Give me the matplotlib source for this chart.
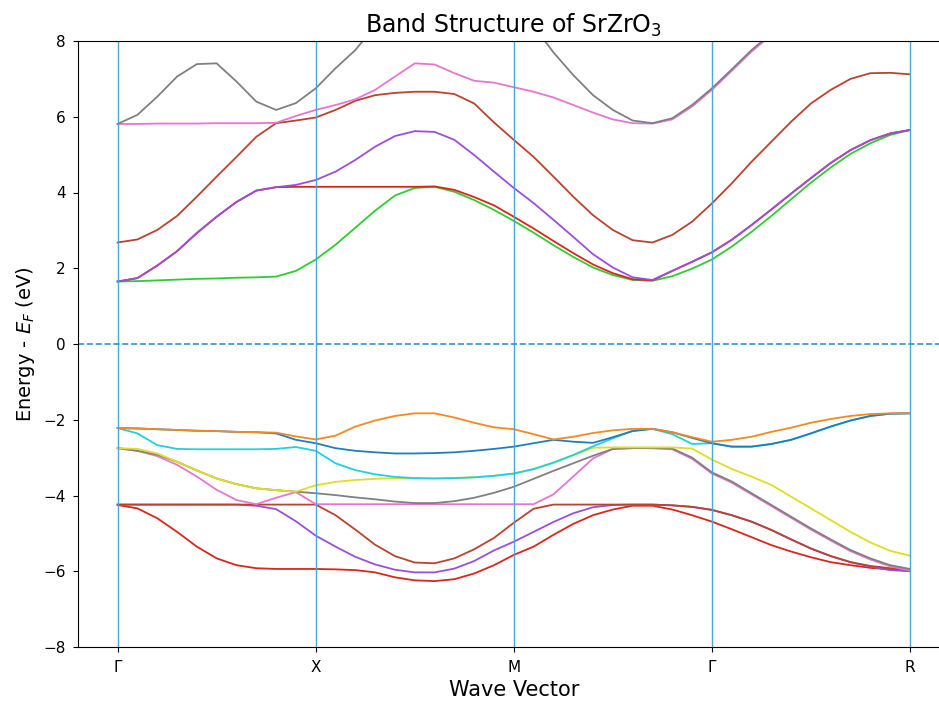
import numpy as np
import matplotlib
matplotlib.use("Agg")
import matplotlib.pyplot as plt

# k-path positions (equal segment lengths) and labels
kpoints = [0, 1, 2, 3, 4]
klabels = ["Γ", "X", "M", "Γ", "R"]
k = np.round(np.arange(0, 4.0001, 0.1), 2)  # sampled k positions (41)

# Valence bands (sorted lowest -> highest)
v_red = [-4.25,-4.34,-4.60,-4.96,-5.35,-5.66,-5.84,-5.92,-5.94,-5.94,-5.94,-5.95,-5.97,-6.03,-6.16,-6.24,-6.26,-6.21,-6.06,-5.84,-5.57,-5.35,-5.04,-4.75,-4.52,-4.37,-4.27,-4.27,-4.37,-4.52,-4.69,-4.89,-5.10,-5.31,-5.48,-5.63,-5.76,-5.84,-5.91,-5.95,-5.99]
v_purple = [-4.24,-4.24,-4.24,-4.24,-4.24,-4.24,-4.24,-4.27,-4.36,-4.68,-5.06,-5.35,-5.62,-5.82,-5.96,-6.03,-6.03,-5.93,-5.73,-5.45,-5.22,-4.96,-4.70,-4.47,-4.31,-4.25,-4.24,-4.24,-4.26,-4.30,-4.38,-4.52,-4.69,-4.91,-5.16,-5.40,-5.60,-5.76,-5.88,-5.97,-6.00]
v_brown = [-4.24,-4.24,-4.24,-4.24,-4.24,-4.24,-4.24,-4.24,-4.24,-4.24,-4.24,-4.52,-4.90,-5.30,-5.60,-5.77,-5.79,-5.66,-5.42,-5.12,-4.72,-4.35,-4.24,-4.24,-4.24,-4.24,-4.24,-4.24,-4.26,-4.30,-4.38,-4.52,-4.69,-4.91,-5.16,-5.40,-5.60,-5.76,-5.86,-5.92,-5.95]
v_pink = [-2.75,-2.82,-2.96,-3.19,-3.50,-3.85,-4.12,-4.23,-4.06,-3.91,-4.23,-4.23,-4.23,-4.23,-4.23,-4.23,-4.23,-4.23,-4.23,-4.23,-4.23,-4.23,-3.97,-3.50,-3.02,-2.77,-2.75,-2.75,-2.78,-3.03,-3.42,-3.66,-3.97,-4.28,-4.59,-4.90,-5.19,-5.47,-5.69,-5.87,-5.98]
v_gray = [-2.75,-2.82,-2.92,-3.11,-3.34,-3.55,-3.70,-3.81,-3.86,-3.90,-3.94,-3.99,-4.05,-4.10,-4.16,-4.20,-4.20,-4.15,-4.06,-3.93,-3.77,-3.56,-3.35,-3.15,-2.95,-2.77,-2.75,-2.75,-2.76,-3.00,-3.39,-3.63,-3.94,-4.25,-4.56,-4.87,-5.16,-5.44,-5.66,-5.84,-5.94]
v_yellow = [-2.75,-2.77,-2.89,-3.11,-3.34,-3.55,-3.70,-3.81,-3.86,-3.90,-3.73,-3.64,-3.59,-3.56,-3.54,-3.55,-3.55,-3.54,-3.52,-3.48,-3.42,-3.31,-3.14,-2.94,-2.74,-2.73,-2.73,-2.73,-2.73,-2.76,-3.05,-3.30,-3.50,-3.72,-4.03,-4.34,-4.65,-4.96,-5.24,-5.46,-5.59]
v_cyan = [-2.22,-2.36,-2.67,-2.77,-2.78,-2.78,-2.78,-2.78,-2.77,-2.72,-2.82,-3.15,-3.33,-3.44,-3.51,-3.54,-3.55,-3.54,-3.52,-3.48,-3.42,-3.30,-3.13,-2.93,-2.70,-2.49,-2.29,-2.24,-2.38,-2.64,-2.62,-2.71,-2.71,-2.64,-2.53,-2.36,-2.18,-2.02,-1.90,-1.84,-1.83]
v_blue = [-2.22,-2.23,-2.25,-2.27,-2.29,-2.30,-2.32,-2.33,-2.36,-2.53,-2.62,-2.75,-2.82,-2.86,-2.89,-2.89,-2.88,-2.86,-2.82,-2.77,-2.71,-2.62,-2.53,-2.58,-2.61,-2.46,-2.30,-2.24,-2.33,-2.48,-2.62,-2.71,-2.71,-2.64,-2.53,-2.36,-2.18,-2.02,-1.90,-1.84,-1.83]
v_orange = [-2.22,-2.23,-2.25,-2.27,-2.29,-2.30,-2.32,-2.33,-2.34,-2.44,-2.52,-2.42,-2.18,-2.02,-1.90,-1.83,-1.83,-1.94,-2.08,-2.20,-2.25,-2.38,-2.52,-2.45,-2.35,-2.28,-2.24,-2.24,-2.33,-2.46,-2.58,-2.53,-2.45,-2.32,-2.21,-2.08,-1.98,-1.90,-1.85,-1.83,-1.83]

# Conduction bands (sorted lowest -> highest)
c_green = [1.65,1.66,1.68,1.70,1.72,1.73,1.75,1.76,1.78,1.93,2.23,2.62,3.07,3.52,3.92,4.12,4.15,4.02,3.80,3.54,3.25,2.94,2.61,2.30,2.02,1.82,1.69,1.67,1.79,1.99,2.23,2.57,2.96,3.38,3.82,4.26,4.66,5.02,5.30,5.52,5.65]
c_red = [1.65,1.74,2.07,2.45,2.93,3.36,3.75,4.05,4.14,4.15,4.15,4.15,4.15,4.15,4.15,4.15,4.16,4.07,3.88,3.66,3.36,3.05,2.72,2.40,2.10,1.87,1.71,1.68,1.93,2.17,2.42,2.75,3.14,3.55,3.97,4.38,4.78,5.12,5.38,5.56,5.65]
c_purple = [1.65,1.74,2.07,2.45,2.93,3.36,3.75,4.05,4.14,4.20,4.33,4.55,4.86,5.21,5.49,5.62,5.60,5.39,4.99,4.55,4.12,3.72,3.28,2.83,2.37,2.02,1.76,1.69,1.93,2.17,2.42,2.75,3.14,3.55,3.97,4.38,4.78,5.12,5.38,5.56,5.65]
c_brown = [2.68,2.76,3.01,3.38,3.89,4.42,4.94,5.47,5.83,5.90,5.98,6.18,6.42,6.57,6.63,6.66,6.66,6.60,6.35,5.85,5.39,4.94,4.42,3.89,3.40,3.01,2.74,2.68,2.88,3.23,3.71,4.24,4.81,5.34,5.87,6.35,6.71,7.00,7.15,7.16,7.12]
c_pink = [5.81,5.81,5.82,5.82,5.82,5.83,5.83,5.83,5.84,6.02,6.18,6.31,6.46,6.71,7.06,7.41,7.38,7.15,6.95,6.90,6.78,6.66,6.51,6.31,6.11,5.93,5.83,5.82,5.93,6.27,6.71,7.21,7.72,8.16,8.56,8.96,9.26,9.46,9.56,9.56,9.56]
c_gray = [5.81,6.05,6.53,7.06,7.39,7.41,6.93,6.40,6.18,6.36,6.75,7.28,7.76,8.40,8.80,9.10,9.30,9.40,9.40,9.20,8.90,8.40,7.70,7.10,6.57,6.18,5.90,5.83,5.96,6.31,6.75,7.25,7.76,8.20,8.60,9.00,9.30,9.50,9.60,9.60,9.60]

bands = [v_red, v_purple, v_brown, v_pink, v_gray, v_yellow, v_cyan, v_blue, v_orange,
         c_green, c_red, c_purple, c_brown, c_pink, c_gray]
colors = ["#d9261c", "#9b4fd9", "#b8432e", "#e676cf", "#808080", "#dede22", "#1fd0df", "#1f7ec2", "#f5891f",
          "#2fcc2f", "#d9261c", "#9b4fd9", "#b8432e", "#e676cf", "#808080"]

W, H = 939, 709
fig = plt.figure(figsize=(W / 100, H / 100), dpi=100)
ax = fig.add_axes([78 / W, 62 / H, (949.6 - 78) / W, (647 - 41) / H])

for e, c in zip(bands, colors):
    ax.plot(k, e, color=c, lw=1.3)

for kp in kpoints:
    ax.axvline(kp, color="#4aa6d6", lw=1.0)
ax.axhline(0, color="#2f94cf", lw=1.2, ls="--")

ax.set_xlim(-0.2, 4.2)
ax.set_ylim(-8, 8)
ax.set_xticks(kpoints)
ax.set_xticklabels(klabels)
ax.set_yticks(np.arange(-8, 9, 2))
ax.tick_params(labelsize=11, pad=5.5)
ax.set_xlabel("Wave Vector", fontsize=15, labelpad=4)
ax.set_ylabel("Energy - $E_F$ (eV)", fontsize=14, labelpad=4)
ax.set_title("Band Structure of SrZrO$_3$", fontsize=17)

fig.savefig("out.png", dpi=100)
